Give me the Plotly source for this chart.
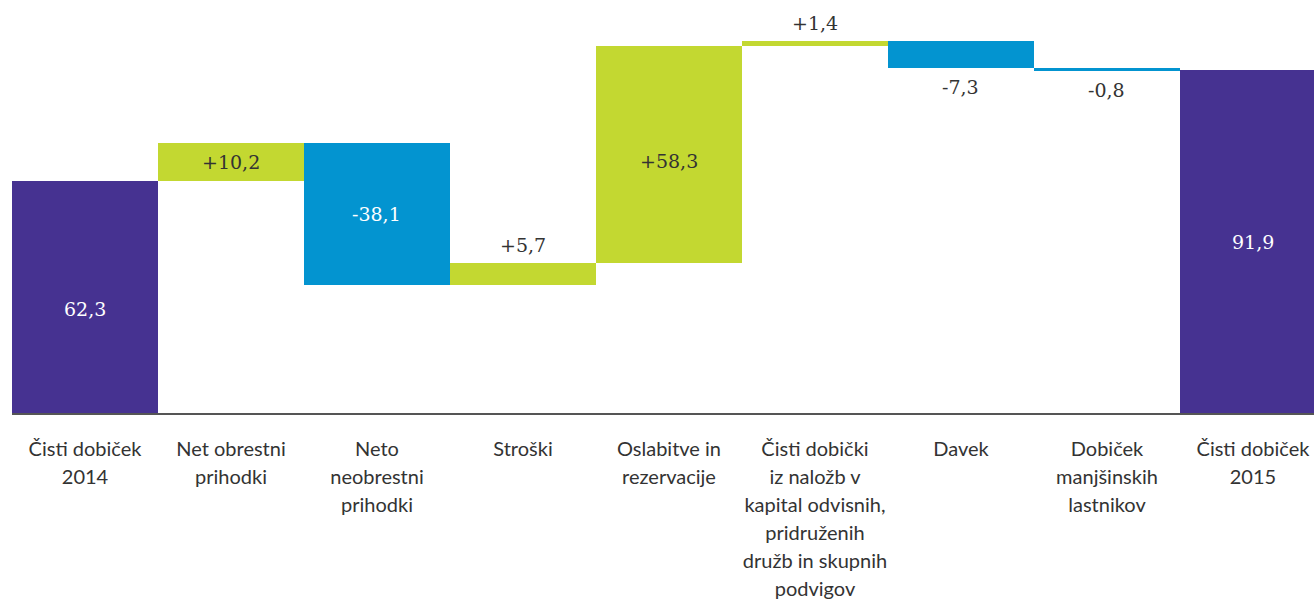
import plotly.graph_objects as go
import numpy as np

categories = ["Čisti dobiček<br>2014", "Net obrestni<br>prihodki", "Neto<br>neobrestni<br>prihodki",
              "Stroški", "Oslabitve in<br>rezervacije",
              "Čisti dobički<br>iz naložb v<br>kapital odvisnih,<br>pridruženih<br>družb in skupnih<br>podvigov",
              "Davek", "Dobiček<br>manjšinskih<br>lastnikov", "Čisti dobiček<br>2015"]
deltas = [62.3, 10.2, -38.1, 5.7, 58.3, 1.4, -7.3, -0.8]
total_end = 91.9
labels = ["62,3", "+10,2", "-38,1", "+5,7", "+58,3", "+1,4", "-7,3", "-0,8", "91,9"]
label_pos = ["inside", "inside", "inside", "above", "inside", "above", "below", "below", "inside"]

PURPLE = "#463291"
GREEN = "#c3d831"
BLUE = "#0394d0"

x = np.arange(len(categories))
cum = np.cumsum(deltas)
bases = [0.0] + list(cum[:-1]) + [0.0]
heights = deltas + [total_end]
colors = [PURPLE] + [GREEN if d > 0 else BLUE for d in deltas[1:]] + [PURPLE]

tick_text = ["<br>".join("<span style='font-size:20px'>%s</span>" % ln for ln in c.split("<br>"))
             for c in categories]

fig = go.Figure()
fig.add_trace(go.Bar(x=x, y=heights, base=bases, marker=dict(color=colors, line=dict(width=0)),
                     width=1.0, hoverinfo="skip"))

annotations = []
for i in range(len(categories)):
    b = bases[i]
    h = heights[i]
    lo, hi = min(b, b + h), max(b, b + h)
    if label_pos[i] == "inside":
        yv, ys = (lo + hi) / 2, 0
        col = "#ffffff" if colors[i] != GREEN else "#333333"
        if i == 0:
            ys = -12
        if i == 4:
            ys = -6
    elif label_pos[i] == "above":
        yv, ys = hi, 18
        col = "#333333"
    else:
        yv, ys = lo, -19
        col = "#333333"
    annotations.append(dict(x=x[i], y=yv, yshift=ys, text=labels[i], showarrow=False,
                            xref="x", yref="y", yanchor="middle",
                            font=dict(family="DejaVu Serif", size=19, color=col)))

fig.update_layout(
    width=1314, height=599,
    margin=dict(l=12, r=0, t=0, b=186, autoexpand=False),
    paper_bgcolor="white", plot_bgcolor="white",
    showlegend=False, bargap=0,
    annotations=annotations,
    xaxis=dict(range=[-0.5, 8.418], tickvals=list(x), ticktext=tick_text, automargin=False,
               showgrid=False, zeroline=False, showline=True, linecolor="#555555", linewidth=2,
               ticks="", ticklabelstandoff=15,
               tickfont=dict(family="Lato", size=21.5, color="#333333")),
    yaxis=dict(range=[0, 110.7], visible=False, showgrid=False, zeroline=False, automargin=False),
)

fig.write_html("out.html", config={"displayModeBar": False},
               post_script="document.body.style.margin='0';document.body.style.overflow='hidden';")
